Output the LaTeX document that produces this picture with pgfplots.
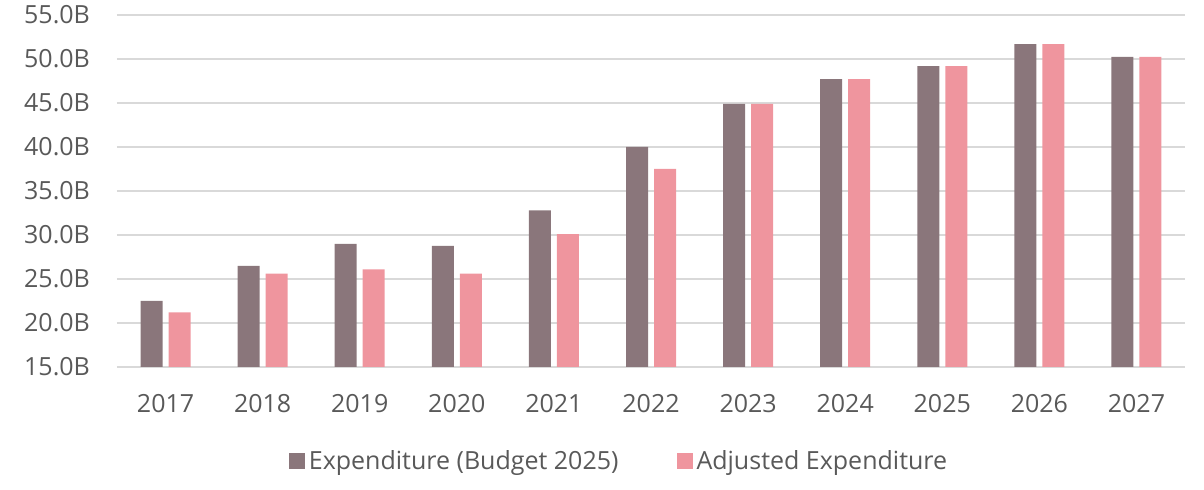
\documentclass[border=0pt]{standalone}
\usepackage{pgfplots}
\pgfplotsset{compat=1.18}
\usepackage{fontspec}
\setmainfont{Open Sans}
\definecolor{expend}{HTML}{8A767B}
\definecolor{adjusted}{HTML}{EF959E}
\definecolor{gridgray}{HTML}{D9D9D9}
\definecolor{labelgray}{HTML}{595959}

\begin{document}
\begin{tikzpicture}
\begin{axis}[
    name=ax,
    scale only axis,
    width=534pt, height=176pt,
    ybar=3pt, bar width=11pt,
    xmin=-0.5, xmax=10.5,
    ymin=15, ymax=55,
    ytick={15,20,...,55},
    xtick=data,
    xticklabels={2017,2018,2019,2020,2021,2022,2023,2024,2025,2026,2027},
    yticklabel={\pgfmathprintnumber[fixed,fixed zerofill,precision=1]{\tick}B},
    /pgf/number format/assume math mode=true,
    ymajorgrids, grid style={gridgray, line width=0.75pt},
    axis lines*=left,
    x axis line style={gridgray, line width=0.75pt},
    y axis line style={draw=none},
    major tick length=0pt,
    tick label style={font=\fontsize{12.5}{14}\selectfont, text=labelgray},
    yticklabel style={xshift=-10pt},
    xticklabel style={yshift=-10pt},
    legend style={at={(0.471,-0.268)}, anchor=center, draw=none, fill=none,
        font=\fontsize{12.5}{14}\selectfont, text=labelgray,
        legend columns=2,
        /tikz/every even column/.append style={column sep=27pt}},
    legend image code/.code={\fill[#1] (0pt,-4pt) rectangle (8pt,4pt);},
]
\addplot[fill=expend, draw=none] coordinates {
    (0,22.5) (1,26.5) (2,29.0) (3,28.75) (4,32.8) (5,40.0)
    (6,44.9) (7,47.7) (8,49.2) (9,51.7) (10,50.25)};
\addlegendentry{Expenditure (Budget 2025)}
\addplot[fill=adjusted, draw=none] coordinates {
    (0,21.2) (1,25.6) (2,26.1) (3,25.6) (4,30.1) (5,37.5)
    (6,44.9) (7,47.7) (8,49.2) (9,51.7) (10,50.25)};
\addlegendentry{Adjusted Expenditure}
\end{axis}
\pgfresetboundingbox
\path ([xshift=-58.5pt,yshift=-61.5pt]ax.south west) rectangle ([xshift=9.5pt,yshift=7.5pt]ax.north east);
\end{tikzpicture}
\end{document}
